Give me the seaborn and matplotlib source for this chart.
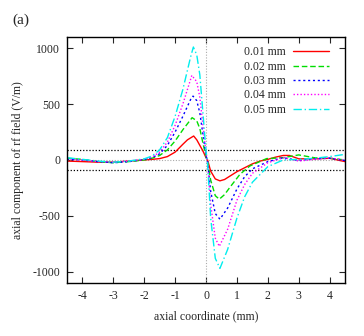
import numpy as np
import pandas as pd
import seaborn as sns
import matplotlib
matplotlib.use("Agg")
import matplotlib.pyplot as plt

# curves: axial rf field vs axial coordinate
x_red = [-4.5, -4.0, -3.5, -3.0, -2.5, -2.0, -1.75, -1.5, -1.25, -1.0, -0.75, -0.6, -0.4, -0.3, -0.2, -0.1, 0.0,
         0.05, 0.15, 0.3, 0.45, 0.6, 0.8, 1.0, 1.25, 1.5, 1.75, 2.0, 2.25, 2.5, 2.7, 3.0, 3.5, 4.0, 4.5]
y_red = [-10, -15, -20, -20, -10, 0, 5, 12, 30, 70, 140, 180, 214, 180, 130, 80, 20,
         0, -100, -170, -187, -175, -140, -105, -70, -35, -10, 5, 25, 40, 40, 10, 10, 15, -15]

x_green = [-4.5, -4.0, -3.5, -3.0, -2.5, -2.0, -1.75, -1.5, -1.25, -1.0, -0.75, -0.5, -0.45, -0.3, -0.2, -0.1, 0.0,
           0.05, 0.15, 0.3, 0.43, 0.6, 0.77, 1.1, 1.42, 1.96, 2.5, 3.0, 3.5, 4.0, 4.5]
y_green = [15, 5, -15, -25, -15, 0, 15, 40, 90, 170, 270, 360, 378, 350, 280, 150, 30,
           -10, -180, -320, -351, -310, -246, -128, -54, 12, 20, 45, 20, 15, 0]

x_blue = [-4.5, -4.0, -3.5, -3.0, -2.5, -2.0, -1.75, -1.5, -1.25, -1.0, -0.75, -0.5, -0.42, -0.3, -0.2, -0.1, 0.0,
          0.05, 0.15, 0.3, 0.45, 0.7, 1.0, 1.25, 1.5, 2.0, 2.5, 3.0, 3.5, 4.0, 4.5]
y_blue = [5, 0, -15, -25, -15, 5, 20, 55, 130, 250, 390, 540, 571, 530, 420, 230, 40,
          -20, -280, -480, -530, -430, -260, -150, -80, -15, 20, -5, 10, 15, -5]

x_magenta = [-4.5, -4.0, -3.5, -3.0, -2.5, -2.0, -1.75, -1.5, -1.25, -1.0, -0.75, -0.5, -0.46, -0.3, -0.2, -0.1, 0.0,
             0.05, 0.15, 0.3, 0.43, 0.7, 1.0, 1.25, 1.5, 2.0, 2.5, 3.0, 3.5, 4.0, 4.5]
y_magenta = [10, 0, -15, -20, -10, 5, 25, 70, 160, 310, 500, 720, 756, 700, 560, 310, 60,
             -20, -400, -700, -773, -620, -360, -220, -120, -25, 20, -10, 5, 20, -5]

x_cyan = [-4.5, -4.0, -3.5, -3.0, -2.5, -2.0, -1.75, -1.5, -1.25, -1.0, -0.75, -0.5, -0.41, -0.3, -0.2, -0.1, 0.0,
          0.05, 0.15, 0.3, 0.45, 0.7, 1.0, 1.25, 1.5, 2.0, 2.5, 3.0, 3.5, 4.0, 4.5]
y_cyan = [20, 5, -10, -20, -10, 10, 35, 90, 200, 390, 630, 920, 1010, 940, 760, 420, 80,
          -30, -520, -880, -970, -800, -520, -330, -200, -60, 0, 5, 15, 30, 50]

labels = ["0.01 mm", "0.02 mm", "0.03 mm", "0.04 mm", "0.05 mm"]
series_x = [x_red, x_green, x_blue, x_magenta, x_cyan]
series_y = [y_red, y_green, y_blue, y_magenta, y_cyan]

frames = []
for lab, xs, ys in zip(labels, series_x, series_y):
    frames.append(pd.DataFrame({"x": xs, "E": ys, "width": lab}))
df = pd.concat(frames, ignore_index=True)

sns.set_style("ticks")
plt.rcParams["font.family"] = ["Liberation Serif", "DejaVu Serif"]
plt.rcParams["font.size"] = 8.5

fig = plt.figure(figsize=(3.64, 3.36), dpi=100)
ax = fig.add_axes([0.184, 0.158, 0.764, 0.732])

palette = dict(zip(labels, ["#ff0000", "#00dd00", "#0000ff", "#ff00ff", "#00eeee"]))
dashes = dict(zip(labels, ["", (4, 2), (1.5, 2), (1, 1.5), (6, 2, 1, 2)]))

# reference lines
ax.axhline(90, color="black", ls=(0, (1, 1.5)), lw=0.9, zorder=1)
ax.axhline(-90, color="black", ls=(0, (1, 1.5)), lw=0.9, zorder=1)
ax.axhline(0, color="#aaaaaa", ls=(0, (1, 1.5)), lw=0.8, zorder=1)
ax.axvline(0, color="#aaaaaa", ls=(0, (1, 1.5)), lw=0.8, zorder=1)

sns.lineplot(data=df, x="x", y="E", hue="width", style="width", palette=palette,
             dashes=dashes, estimator=None, sort=False, lw=1.0, ax=ax)

ax.set_xlim(-4.5, 4.5)
ax.set_ylim(-1100, 1100)
ax.set_xticks(range(-4, 5))
ax.set_yticks([-1000, -500, 0, 500, 1000])
ax.set_xticklabels([str(v) for v in range(-4, 5)])
ax.set_yticklabels(["-1000", "-500", "0", "500", "1000"])
ax.tick_params(direction="in", top=True, right=True, length=4, width=0.8, labelsize=8.5, pad=5)
for s in ax.spines.values():
    s.set_linewidth(1.0)
    s.set_color("black")

ax.set_xlabel("axial coordinate (mm)", fontsize=8.5, labelpad=6)
ax.set_ylabel("axial component of rf field (V/m)", fontsize=8.5, labelpad=6)

ax.legend(loc="upper right", bbox_to_anchor=(0.975, 1.0), frameon=False, markerfirst=False,
          handlelength=3.0, labelspacing=0.2, fontsize=8.5, borderaxespad=0.4, handletextpad=0.6)

fig.text(0.035, 0.93, "(a)", fontsize=11)

fig.savefig("out.png", dpi=100)
